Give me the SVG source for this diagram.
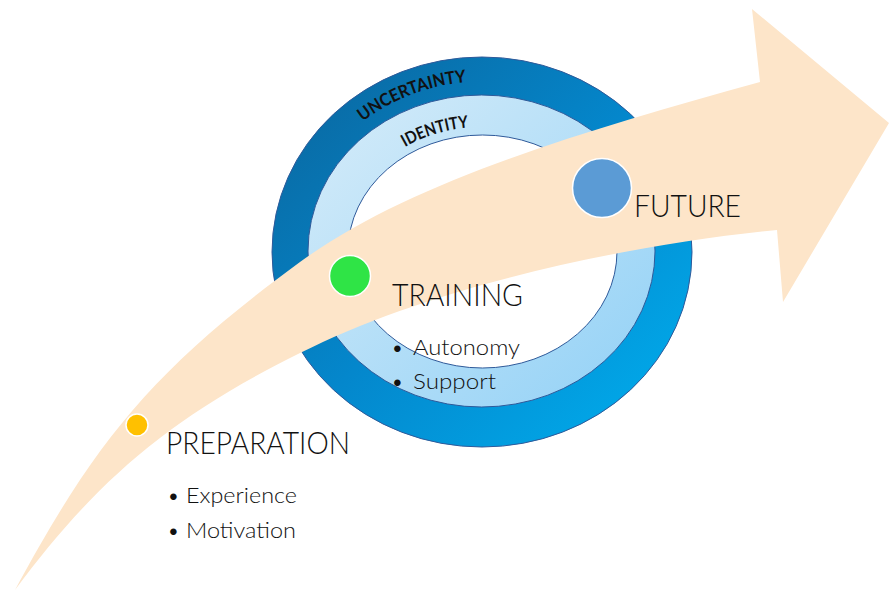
<svg xmlns="http://www.w3.org/2000/svg" width="889" height="592" viewBox="0 0 889 592">
  <defs>
    <linearGradient id="gOuter" x1="0" y1="0" x2="1" y2="1">
      <stop offset="0" stop-color="#0b649b"/>
      <stop offset="0.5" stop-color="#0487cc"/>
      <stop offset="1" stop-color="#00b0f0"/>
    </linearGradient>
    <linearGradient id="gMid" x1="0" y1="0" x2="1" y2="1">
      <stop offset="0" stop-color="#d6ecf9"/>
      <stop offset="1" stop-color="#92d1f6"/>
    </linearGradient>
    <path id="pUnc" d="M363,121.5 A187,171 0 0 1 546,91.3"/>
    <path id="pIde" d="M405,147 A142,125 0 0 1 530.6,134.5"/>
    <style>
      .ring { stroke: #2f5a9a; stroke-width: 1; }
      .ringlabel { font-family: Lato, "Open Sans", "Liberation Sans", sans-serif; font-weight: 700; fill: #111; }
      .head { font-family: Lato, "Open Sans", "Liberation Sans", sans-serif; font-weight: 300; font-size: 31px; fill: #111; }
      .item { font-family: Lato, "Open Sans", "Liberation Sans", sans-serif; font-weight: 300; font-size: 22px; fill: #111; }
      .dot { stroke: #ffffff; stroke-width: 1.5; }
    </style>
  </defs>

  <rect width="889" height="592" fill="#ffffff"/>

  <g id="ring-uncertainty">
    <ellipse class="ring" cx="482" cy="252" rx="210" ry="195" fill="url(#gOuter)"/>
    <text class="ringlabel" font-size="17.5"><textPath href="#pUnc" textLength="112" lengthAdjust="spacingAndGlyphs">UNCERTAINTY</textPath></text>
  </g>
  <g id="ring-identity">
    <ellipse class="ring" cx="481.5" cy="251" rx="173.5" ry="156" fill="url(#gMid)"/>
    <ellipse class="ring" cx="482.5" cy="251.5" rx="134.5" ry="116.5" fill="#ffffff"/>
    <text class="ringlabel" font-size="17"><textPath href="#pIde" textLength="67" lengthAdjust="spacingAndGlyphs">IDENTITY</textPath></text>
  </g>

  <g id="connectors">
    <path id="journey-arrow" fill="#fde5c9" d="M15,590 C95,442 152,370 300,262 C411,181 584,131 760,82 L752,9 L889,123 L783,302 L777,230 C627,245 435,285 300,353 C165,420 93,485 15,590 Z"/>
  </g>

  <g id="node-preparation">
    <circle class="dot" cx="137" cy="425" r="11" fill="#ffc000"/>
    <text class="head" x="166" y="454" textLength="184" lengthAdjust="spacingAndGlyphs">PREPARATION</text>
    <text class="item" y="503"><tspan x="167">•</tspan><tspan x="186" textLength="111" lengthAdjust="spacingAndGlyphs">Experience</tspan></text>
    <text class="item" y="538"><tspan x="167">•</tspan><tspan x="186" textLength="110" lengthAdjust="spacingAndGlyphs">Motivation</tspan></text>
  </g>

  <g id="node-training">
    <circle class="dot" cx="350" cy="276" r="20.5" fill="#2fe446"/>
    <text class="head" x="392" y="306" textLength="131" lengthAdjust="spacingAndGlyphs">TRAINING</text>
    <text class="item" y="355"><tspan x="391">•</tspan><tspan x="413" textLength="107" lengthAdjust="spacingAndGlyphs">Autonomy</tspan></text>
    <text class="item" y="389"><tspan x="391">•</tspan><tspan x="413" textLength="83" lengthAdjust="spacingAndGlyphs">Support</tspan></text>
  </g>

  <g id="node-future">
    <circle class="dot" cx="602" cy="188" r="29.5" fill="#5b9bd5"/>
    <text class="head" x="634" y="217" textLength="107" lengthAdjust="spacingAndGlyphs">FUTURE</text>
  </g>
</svg>
